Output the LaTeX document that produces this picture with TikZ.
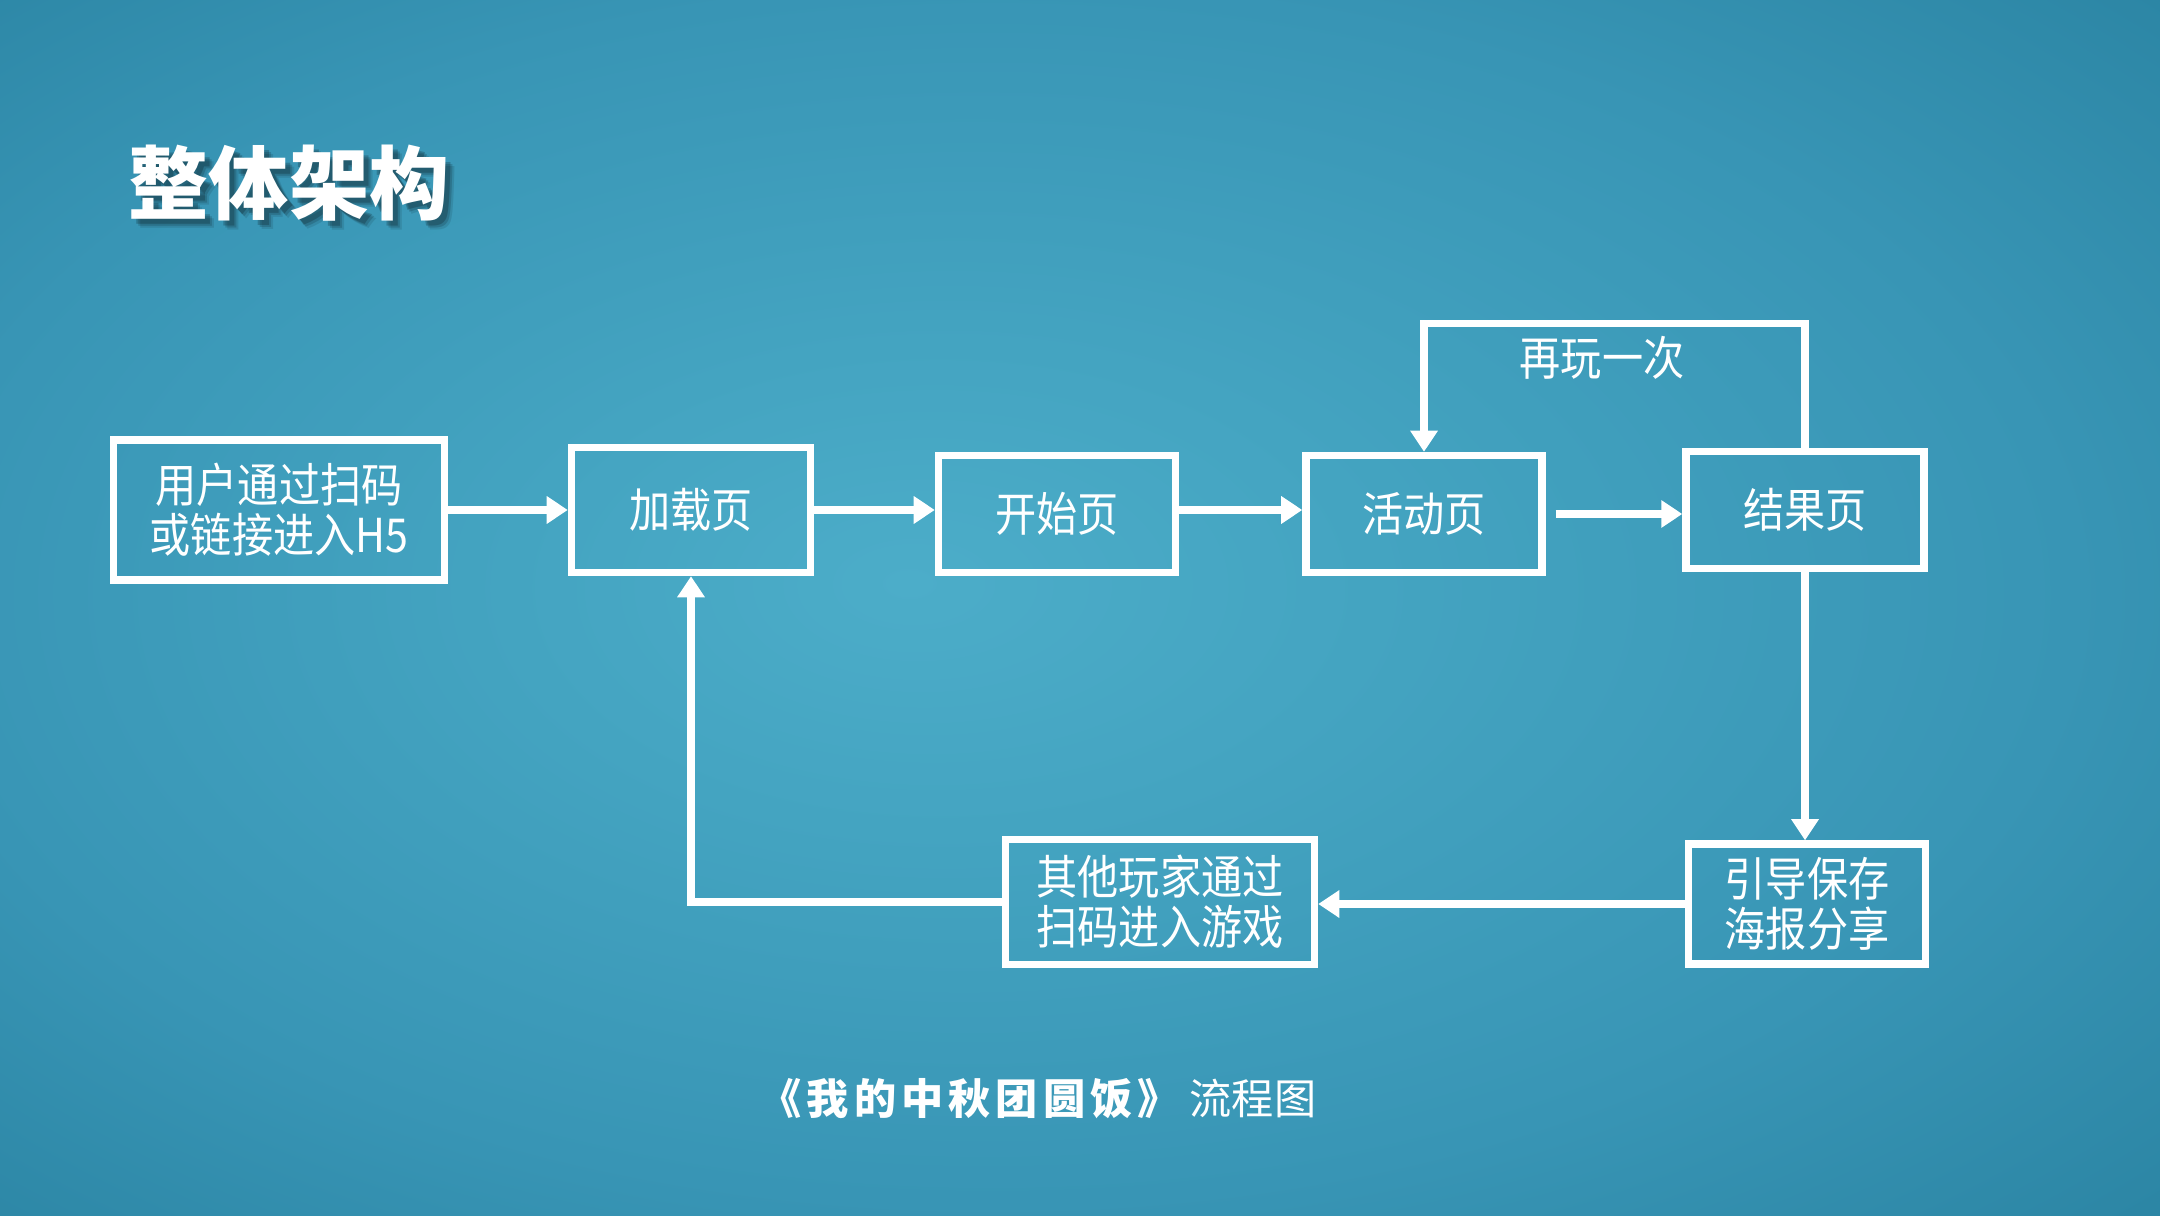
\documentclass[tikz,border=0pt]{standalone}
\usepackage{fontspec}
\setmainfont{Noto Sans CJK SC}
\newfontfamily\boxfont{Noto Sans CJK SC}[FakeStretch=0.88]
\usetikzlibrary{arrows.meta,calc}

\definecolor{bgin}{HTML}{4CADC9}
\definecolor{bgmid}{HTML}{44A4C1}
\definecolor{bgedge}{HTML}{3895B5}
\definecolor{bgcorner}{HTML}{2C86A5}
\pgfdeclareradialshading{bgglow}{\pgfpoint{-4bp}{1bp}}{color(0bp)=(bgin); color(10bp)=(bgmid); color(25bp)=(bgedge); color(36bp)=(bgcorner); color(50bp)=(bgcorner)}

\tikzset{
  stage/.style={draw=white, line width=2.1pt, text=white, align=center, inner sep=0pt,
    font=\boxfont\fontsize{13.3pt}{14.3pt}\selectfont},
  flow/.style={draw=white, line width=2.1pt, -{Triangle[length=6pt,width=7.5pt]}},
  headline/.style={font=\bfseries\fontsize{22.8pt}{24pt}\selectfont},
}

\begin{document}
\begin{tikzpicture}
\useasboundingbox (0,0) rectangle (21.6,12.15);
\shade[shading=bgglow] (0,0) rectangle (21.6,12.15);

% title with soft shadow
\foreach \d/\o in {0.09/0.10,0.07/0.15,0.05/0.2}
  \node[headline, text=black, opacity=\o] (shadow\d) at (2.89+\d,10.32-\d) {整体架构};
\node[headline, text=white] (title) at (2.89,10.32) {整体架构};

% top row
\node[stage, minimum width=3.31cm, minimum height=1.40cm] (user) at (2.79,7.05) {用户通过扫码\\或链接进入H5};
\node[stage, minimum width=2.39cm, minimum height=1.25cm] (load) at (6.91,7.05) {加载页};
\node[stage, minimum width=2.37cm, minimum height=1.17cm] (start) at (10.57,7.01) {开始页};
\node[stage, minimum width=2.36cm, minimum height=1.17cm] (play) at (14.24,7.01) {活动页};
\node[stage, minimum width=2.38cm, minimum height=1.17cm] (result) at (18.05,7.05) {结果页};

% bottom row
\node[stage, minimum width=2.37cm, minimum height=1.20cm] (share) at (18.07,3.11) {引导保存\\海报分享};
\node[stage, minimum width=3.09cm, minimum height=1.25cm] (others) at (11.60,3.13) {其他玩家通过\\扫码进入游戏};

\draw[flow] (user.east) -- (user.east -| load.west);
\draw[flow] (load.east) -- (load.east -| start.west);
\draw[flow] (start.east |- load.east) -- (play.west |- load.east);
\draw[flow] ([xshift=1mm]play.east) -- (play.east -| result.west);
\draw[flow] (result.south) -- (result.south |- share.north);
\draw[flow] (share.west) -- (share.west -| others.east);
\draw[flow] (others.west) -| (load.south);

% replay loop
\draw[flow] (result.north) -- ++(0,1.24) -| (play.north);
\node[text=white, font=\boxfont\fontsize{13.3pt}{14.3pt}\selectfont] (again) at (16.02,8.57) {再玩一次};

% caption
\node[text=white, font=\fontsize{12pt}{13pt}\selectfont] (caption) at (10.38,1.16)
  {{\bfseries\addfontfeature{LetterSpace=12}《我的中秋团圆饭》}\hspace{0.1cm}流程图};
\end{tikzpicture}
\end{document}
